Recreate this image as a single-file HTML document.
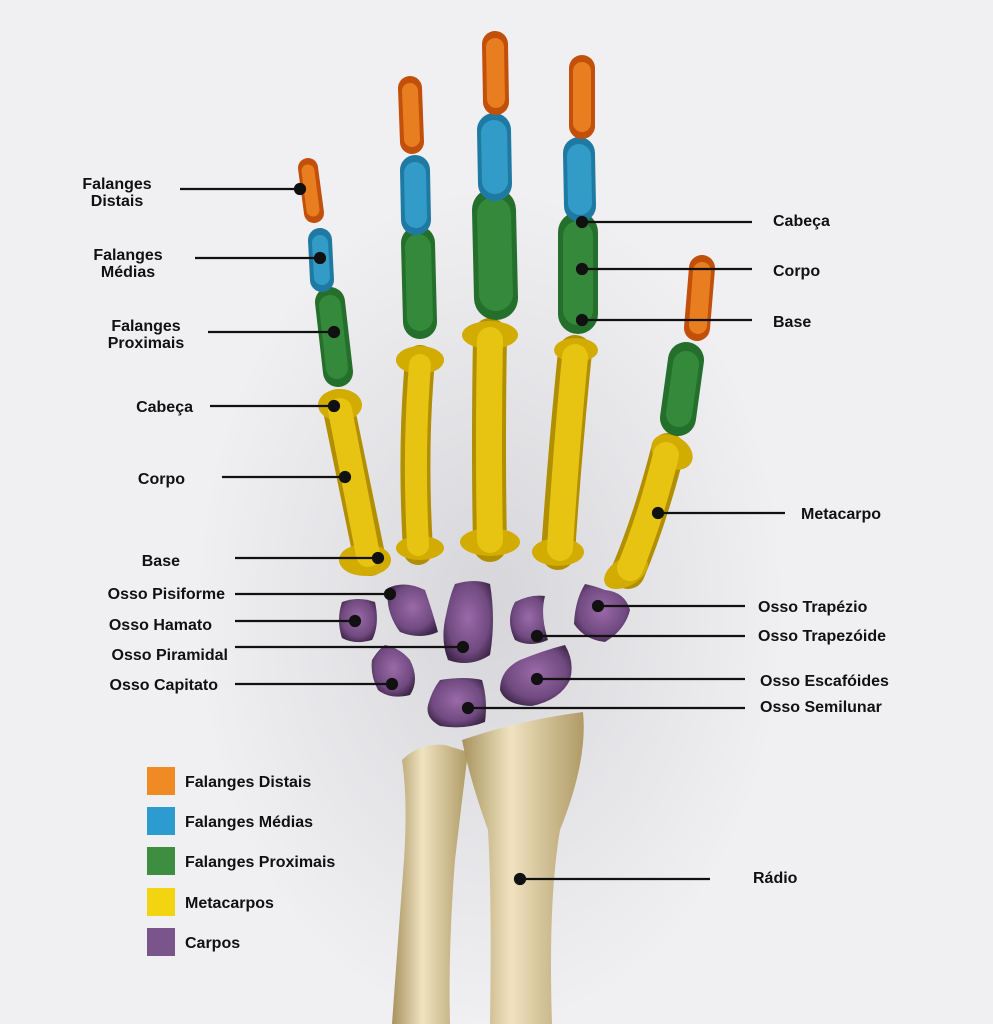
<!DOCTYPE html>
<html><head><meta charset="utf-8"><style>
html,body{margin:0;padding:0;background:#efeff1;}
svg{display:block}
text{font-family:"Liberation Sans",sans-serif;font-weight:bold;font-size:16px;fill:#111}
</style></head><body>
<svg width="993" height="1024" viewBox="0 0 993 1024" xmlns="http://www.w3.org/2000/svg">
<defs>
<radialGradient id="bg" cx="50%" cy="55%" r="45%">
<stop offset="0" stop-color="#d6d6da"/><stop offset="0.6" stop-color="#e6e6e9"/><stop offset="1" stop-color="#f0f0f2"/></radialGradient>
<radialGradient id="pur" cx="50%" cy="45%" r="60%"><stop offset="0" stop-color="#9a6aa8"/><stop offset="0.7" stop-color="#704a80"/><stop offset="1" stop-color="#3f2648"/></radialGradient>
<linearGradient id="bone" x1="0" x2="1"><stop offset="0" stop-color="#a8925e"/><stop offset="0.4" stop-color="#efe3c0"/><stop offset="1" stop-color="#b09a66"/></linearGradient>
</defs>
<rect width="993" height="1024" fill="#f0f0f2"/>
<ellipse cx="490" cy="560" rx="330" ry="470" fill="url(#bg)"/>

<path d="M402,760 Q420,742 445,745 L468,752 Q462,800 455,860 Q448,950 450,1024 L392,1024 Q398,940 404,860 Q408,800 402,760Z" fill="url(#bone)"/>
<path d="M462,740 Q520,720 583,712 Q588,760 560,830 Q548,900 552,1024 L490,1024 Q492,900 488,830 Q470,780 462,740Z" fill="url(#bone)"/>

<g stroke-linecap="round">
<g stroke="#b28f00">
<path d="M338,405 L370,560" stroke-width="32"/>
<path d="M420,360 Q412,450 418,550" stroke-width="30"/>
<path d="M490,335 Q488,450 490,545" stroke-width="34"/>
<path d="M575,352 Q565,450 558,553" stroke-width="34"/>
<path d="M668,450 Q650,520 628,572" stroke-width="34"/>
</g>
<g fill="#d2ac00">
<ellipse cx="340" cy="405" rx="22" ry="16"/><ellipse cx="365" cy="560" rx="26" ry="16"/>
<ellipse cx="420" cy="360" rx="24" ry="14"/><ellipse cx="420" cy="548" rx="24" ry="12"/>
<ellipse cx="490" cy="335" rx="28" ry="14"/><ellipse cx="490" cy="542" rx="30" ry="14"/>
<ellipse cx="576" cy="350" rx="22" ry="12"/><ellipse cx="558" cy="552" rx="26" ry="14"/>
<ellipse cx="672" cy="452" rx="22" ry="16" transform="rotate(30 672 452)"/><ellipse cx="626" cy="572" rx="24" ry="14" transform="rotate(-30 626 572)"/>
</g>
<g stroke="#e8c412">
<path d="M340,410 L368,555" stroke-width="24"/>
<path d="M420,365 Q413,450 418,545" stroke-width="22"/>
<path d="M490,340 Q488,450 490,540" stroke-width="26"/>
<path d="M575,357 Q566,450 560,548" stroke-width="26"/>
<path d="M666,455 Q650,520 630,568" stroke-width="26"/>
</g>
<g stroke="#246f2c">
<path d="M330,302 L338,372" stroke-width="30"/>
<path d="M418,243 L420,322" stroke-width="34"/>
<path d="M494,210 L496,298" stroke-width="44"/>
<path d="M578,232 L578,314" stroke-width="40"/>
<path d="M686,360 L678,418" stroke-width="36"/>
</g>
<g stroke="#35893b">
<path d="M330,306 L337,368" stroke-width="22"/>
<path d="M418,247 L420,318" stroke-width="26"/>
<path d="M494,214 L496,294" stroke-width="34"/>
<path d="M578,236 L578,310" stroke-width="30"/>
<path d="M686,364 L679,414" stroke-width="26"/>
</g>
<g stroke="#1f7aa3">
<path d="M320,240 L322,280" stroke-width="24"/>
<path d="M415,170 L416,220" stroke-width="30"/>
<path d="M494,130 L495,184" stroke-width="34"/>
<path d="M579,153 L580,206" stroke-width="32"/>
</g>
<g stroke="#329bc8">
<path d="M320,243 L322,277" stroke-width="16"/>
<path d="M415,173 L416,217" stroke-width="22"/>
<path d="M494,133 L495,181" stroke-width="26"/>
<path d="M579,156 L580,203" stroke-width="24"/>
</g>
<g stroke="#c24f0a">
<path d="M308,168 L314,213" stroke-width="20"/>
<path d="M410,88 L412,142" stroke-width="24"/>
<path d="M495,44 L496,102" stroke-width="26"/>
<path d="M582,68 L582,126" stroke-width="26"/>
<path d="M702,268 L697,328" stroke-width="26"/>
</g>
<g stroke="#e87e20">
<path d="M308,171 L313,210" stroke-width="13"/>
<path d="M410,91 L412,139" stroke-width="16"/>
<path d="M495,47 L496,99" stroke-width="18"/>
<path d="M582,71 L582,123" stroke-width="18"/>
<path d="M702,271 L698,325" stroke-width="18"/>
</g>
</g>

<path d="M388,588 Q405,580 425,590 Q432,610 438,632 Q420,640 400,632 Q385,612 388,588Z" fill="url(#pur)"/>
<path d="M342,602 Q358,596 375,602 Q380,625 372,640 Q355,645 342,638 Q336,620 342,602Z" fill="url(#pur)"/>
<path d="M455,584 Q475,578 490,584 Q496,620 490,655 Q470,668 448,660 Q440,640 446,615 Q450,595 455,584Z" fill="url(#pur)"/>
<path d="M515,602 Q530,594 545,596 Q540,615 548,640 Q530,648 515,640 Q505,620 515,602Z" fill="url(#pur)"/>
<path d="M585,584 Q595,586 605,590 Q625,592 630,610 Q625,630 605,642 Q585,640 574,624 Q575,600 585,584Z" fill="url(#pur)"/>
<path d="M385,645 Q400,648 410,660 Q420,680 410,695 Q390,700 378,690 Q370,675 372,660 Q378,650 385,645Z" fill="url(#pur)"/>
<path d="M565,645 Q575,662 570,680 Q560,700 532,706 Q505,705 500,690 Q500,670 520,660 Q545,650 565,645Z" fill="url(#pur)"/>
<path d="M440,680 Q465,676 482,680 Q488,700 485,722 Q465,730 440,726 Q425,718 428,705 Q432,690 440,680Z" fill="url(#pur)"/>

<g stroke="#111" stroke-width="2.2" fill="#111">
<line x1="180" y1="189" x2="300" y2="189"/><circle cx="300" cy="189" r="5"/>
<line x1="195" y1="258" x2="320" y2="258"/><circle cx="320" cy="258" r="5"/>
<line x1="208" y1="332" x2="334" y2="332"/><circle cx="334" cy="332" r="5"/>
<line x1="210" y1="406" x2="334" y2="406"/><circle cx="334" cy="406" r="5"/>
<line x1="222" y1="477" x2="345" y2="477"/><circle cx="345" cy="477" r="5"/>
<line x1="235" y1="558" x2="378" y2="558"/><circle cx="378" cy="558" r="5"/>
<line x1="235" y1="594" x2="390" y2="594"/><circle cx="390" cy="594" r="5"/>
<line x1="235" y1="621" x2="355" y2="621"/><circle cx="355" cy="621" r="5"/>
<line x1="235" y1="647" x2="463" y2="647"/><circle cx="463" cy="647" r="5"/>
<line x1="235" y1="684" x2="392" y2="684"/><circle cx="392" cy="684" r="5"/>
<line x1="582" y1="222" x2="752" y2="222"/><circle cx="582" cy="222" r="5"/>
<line x1="582" y1="269" x2="752" y2="269"/><circle cx="582" cy="269" r="5"/>
<line x1="582" y1="320" x2="752" y2="320"/><circle cx="582" cy="320" r="5"/>
<line x1="658" y1="513" x2="785" y2="513"/><circle cx="658" cy="513" r="5"/>
<line x1="598" y1="606" x2="745" y2="606"/><circle cx="598" cy="606" r="5"/>
<line x1="537" y1="636" x2="745" y2="636"/><circle cx="537" cy="636" r="5"/>
<line x1="537" y1="679" x2="745" y2="679"/><circle cx="537" cy="679" r="5"/>
<line x1="468" y1="708" x2="745" y2="708"/><circle cx="468" cy="708" r="5"/>
<line x1="520" y1="879" x2="710" y2="879"/><circle cx="520" cy="879" r="5"/>
</g>

<g text-anchor="middle">
<text x="117" y="189">Falanges</text><text x="117" y="206">Distais</text>
<text x="128" y="260">Falanges</text><text x="128" y="277">Médias</text>
<text x="146" y="331">Falanges</text><text x="146" y="348">Proximais</text>
</g>
<g text-anchor="end">
<text x="193" y="412">Cabeça</text>
<text x="185" y="484">Corpo</text>
<text x="180" y="566">Base</text>
<text x="225" y="599">Osso Pisiforme</text>
<text x="212" y="630">Osso Hamato</text>
<text x="228" y="660">Osso Piramidal</text>
<text x="218" y="690">Osso Capitato</text>
</g>
<text x="773" y="226">Cabeça</text>
<text x="773" y="276">Corpo</text>
<text x="773" y="327">Base</text>
<text x="801" y="519">Metacarpo</text>
<text x="758" y="612">Osso Trapézio</text>
<text x="758" y="641">Osso Trapezóide</text>
<text x="760" y="686">Osso Escafóides</text>
<text x="760" y="712">Osso Semilunar</text>
<text x="753" y="883">Rádio</text>

<rect x="147" y="767" width="28" height="28" fill="#ef8a25"/>
<rect x="147" y="807" width="28" height="28" fill="#2b9bd0"/>
<rect x="147" y="847" width="28" height="28" fill="#3e8e41"/>
<rect x="147" y="888" width="28" height="28" fill="#f2d410"/>
<rect x="147" y="928" width="28" height="28" fill="#7a558c"/>
<text x="185" y="787">Falanges Distais</text>
<text x="185" y="827">Falanges Médias</text>
<text x="185" y="867">Falanges Proximais</text>
<text x="185" y="908">Metacarpos</text>
<text x="185" y="948">Carpos</text>
</svg>
</body></html>
